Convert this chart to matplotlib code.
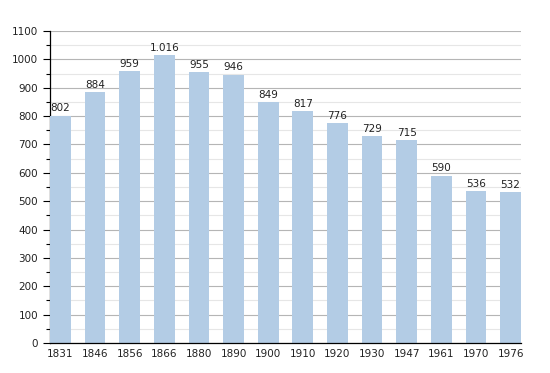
import numpy as np
import matplotlib.pyplot as plt
from matplotlib.ticker import MultipleLocator

years = ['1831', '1846', '1856', '1866', '1880', '1890', '1900', '1910',
         '1920', '1930', '1947', '1961', '1970', '1976']
population = [802, 884, 959, 1016, 955, 946, 849, 817, 776, 729, 715, 590, 536, 532]
value_labels = ['802', '884', '959', '1.016', '955', '946', '849', '817',
                '776', '729', '715', '590', '536', '532']

plt.rcParams['font.family'] = 'DejaVu Sans'

fig = plt.figure(figsize=(5.5, 3.73), dpi=100)
ax = fig.add_axes([0.0909, 0.0804, 0.8564, 0.8364])

x = np.arange(len(years))
ax.bar(x, population, width=0.6, color='#b3cce5', zorder=3)
for xi, v, lab in zip(x, population, value_labels):
    ax.text(xi, v + 8, lab, ha='center', va='bottom', fontsize=7.5,
            color='#222222', zorder=4)

ax.set_xlim(-0.3, len(years) - 0.7)
ax.set_ylim(0, 1100)
ax.set_xticks(x)
ax.set_xticklabels(years, fontsize=7.5, color='#222222')
ax.yaxis.set_major_locator(MultipleLocator(100))
ax.yaxis.set_minor_locator(MultipleLocator(50))
ax.tick_params(axis='y', labelsize=7.5, labelcolor='#222222', length=5,
               width=0.8, direction='out')
ax.tick_params(axis='y', which='minor', length=3, width=0.8)
ax.tick_params(axis='x', length=0, pad=4)

ax.grid(axis='y', which='major', color='#b5b5b5', linewidth=0.8, zorder=0)
ax.grid(axis='y', which='minor', color='#e6e6e6', linewidth=0.8, zorder=0)

for s in ['top', 'right']:
    ax.spines[s].set_visible(False)
ax.spines['left'].set_linewidth(0.9)
ax.spines['bottom'].set_linewidth(0.9)
ax.spines['bottom'].set_zorder(5)

fig.savefig('out.png', dpi=100)
